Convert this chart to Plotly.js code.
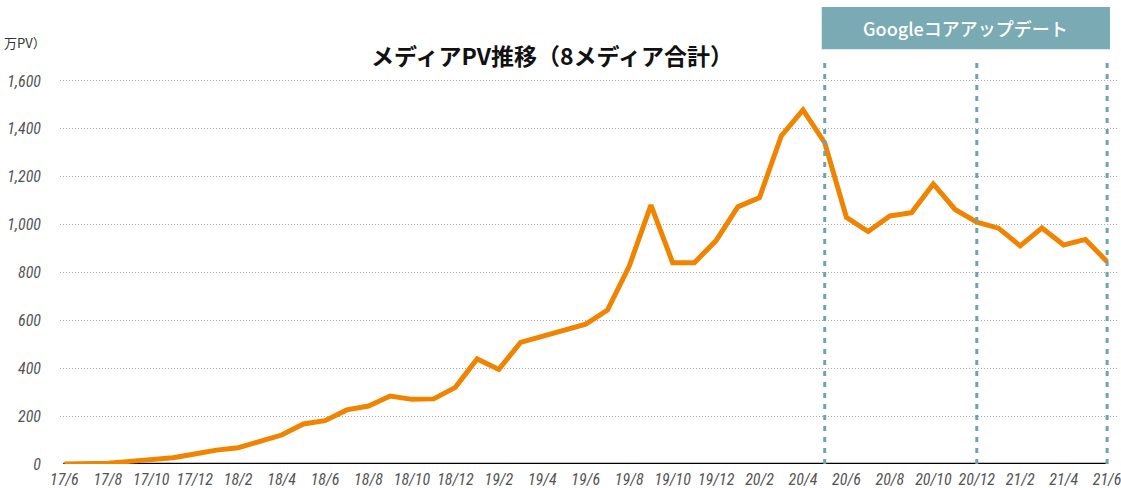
<!DOCTYPE html>
<html>
<head>
<meta charset="utf-8">
<script src="https://cdn.plot.ly/plotly-3.0.1.min.js"></script>
<style>
html,body{margin:0;padding:0;background:#fff;}
#chart{width:1121px;height:488px;}
</style>
</head>
<body>
<div id="chart"></div>
<script>
const months = [
  "17/6","17/7","17/8","17/9","17/10","17/11","17/12",
  "18/1","18/2","18/3","18/4","18/5","18/6","18/7","18/8","18/9","18/10","18/11","18/12",
  "19/1","19/2","19/3","19/4","19/5","19/6","19/7","19/8","19/9","19/10","19/11","19/12",
  "20/1","20/2","20/3","20/4","20/5","20/6","20/7","20/8","20/9","20/10","20/11","20/12",
  "21/1","21/2","21/3","21/4","21/5","21/6"
];
const pv = [
  0, 2, 3, 11, 20, 26, 42,
  58, 68, 96, 121, 167, 181, 226, 242, 284, 270, 272, 320,
  439, 395, 508, 535, 560, 584, 643, 826, 1081, 841, 841, 933,
  1074, 1113, 1370, 1479, 1342, 1030, 971, 1036, 1050, 1170, 1063, 1010,
  985, 911, 986, 915, 938, 845
];
const tickLabels = months.filter((m, i) => i % 2 === 0);
const yTicks = [0, 200, 400, 600, 800, 1000, 1200, 1400, 1600];
const yTickText = yTicks.map(v => v.toLocaleString("en-US"));
const updateMonths = ["20/5", "20/12", "21/6"];
const titleText = "メディアPV推移（8メディア合計）";
const unitText = "万PV）";
const boxText = "Googleコアアップデート";

const tickFont = {family: "'Liberation Sans Narrow', 'Roboto Condensed', Roboto, sans-serif", size: 16, color: "#555555", style: "italic"};

const trace = {
  x: months,
  y: pv,
  type: "scatter",
  mode: "lines",
  line: {color: "#F08300", width: 5},
  hoverinfo: "skip"
};

const shapes = [
  {type: "line", xref: "x", yref: "y", x0: -0.05, x1: months.length - 1, y0: 0, y1: 0,
   line: {color: "#000000", width: 2.5}, layer: "below"},
  {type: "rect", xref: "paper", yref: "paper", x0: 0.720, x1: 0.9924, y0: 0.894, y1: 0.985,
   fillcolor: "#7AAAB3", line: {width: 0}, layer: "above"}
];
updateMonths.forEach(m => {
  shapes.push({type: "line", xref: "x", yref: "paper", x0: months.indexOf(m), x1: months.indexOf(m),
    y0: 0, y1: 0.866, line: {color: "#6FA3AE", width: 3, dash: "5px,6px"}, layer: "above"});
});

const layout = {
  width: 1121, height: 488,
  margin: {l: 60, r: 3, t: 0, b: 24},
  paper_bgcolor: "#ffffff", plot_bgcolor: "#ffffff",
  showlegend: false,
  xaxis: {
    type: "category",
    range: [-0.2, 48.5],
    tickmode: "array",
    tickvals: tickLabels,
    ticktext: tickLabels,
    showgrid: false, zeroline: false, showline: false, ticks: "",
    tickfont: tickFont,
    ticklabelstandoff: 4
  },
  yaxis: {
    range: [0, 1938],
    tickmode: "array",
    tickvals: yTicks,
    ticktext: yTickText,
    showgrid: true, gridcolor: "#a8a8a8", griddash: "1px,2px", gridwidth: 1,
    zeroline: false, showline: false, ticks: "",
    tickfont: tickFont,
    ticklabelstandoff: 18
  },
  shapes: shapes,
  annotations: [
    {text: "<b>" + titleText + "</b>", xref: "paper", yref: "paper", x: 0.465, y: 0.882,
     xanchor: "center", yanchor: "middle", showarrow: false,
     font: {family: "'Noto Sans CJK JP', sans-serif", size: 23, color: "#111111", weight: 900}},
    {text: unitText, xref: "paper", yref: "paper", x: -0.011, y: 0.909,
     xanchor: "right", yanchor: "middle", showarrow: false,
     font: {family: "'Noto Sans CJK JP', sans-serif", size: 13, color: "#333333"}},
    {text: boxText, xref: "paper", yref: "paper", x: 0.856, y: 0.940,
     xanchor: "center", yanchor: "middle", showarrow: false,
     font: {family: "'Noto Sans CJK JP', sans-serif", size: 18, color: "#ffffff", weight: 500}}
  ]
};

Plotly.newPlot("chart", [trace], layout, {displayModeBar: false, staticPlot: true});
</script>
</body>
</html>
